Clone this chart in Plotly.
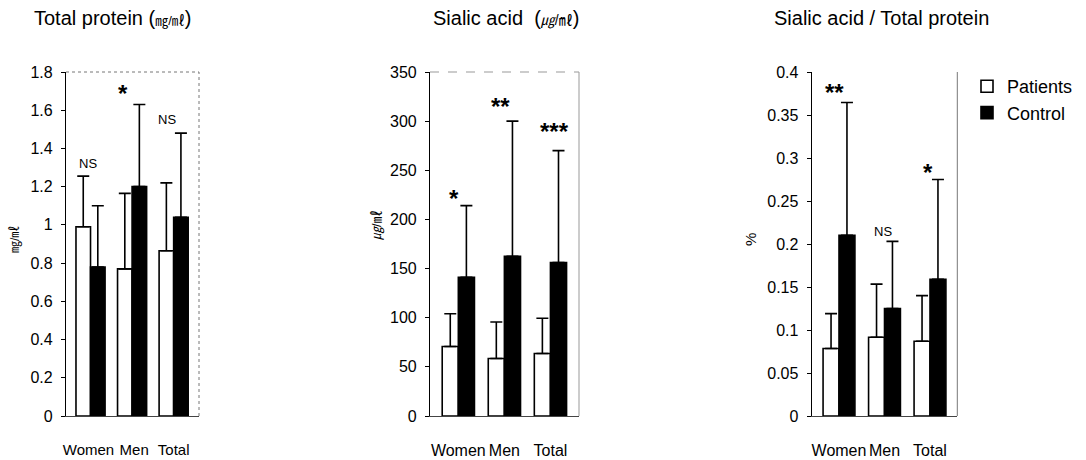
import plotly.graph_objects as go

W, H = 1086, 460

groups = ["Women", "Men", "Total"]

# Panel 1: Total protein (mg/ml)
tp_patients = [0.99, 0.77, 0.865]
tp_patients_sd = [0.265, 0.395, 0.355]
tp_control = [0.78, 1.20, 1.04]
tp_control_sd = [0.32, 0.43, 0.44]
tp_sig = ["NS", "*", "NS"]

# Panel 2: Sialic acid (ug/ml)
sa_patients = [70.7, 58.5, 63.6]
sa_patients_sd = [33.3, 37.2, 35.8]
sa_control = [141, 162.6, 156]
sa_control_sd = [73, 137.4, 114]
sa_sig = ["*", "**", "***"]

# Panel 3: Sialic acid / Total protein (%)
ratio_patients = [0.0785, 0.0916, 0.087]
ratio_patients_sd = [0.0405, 0.0618, 0.053]
ratio_control = [0.21, 0.125, 0.159]
ratio_control_sd = [0.1545, 0.078, 0.116]
ratio_sig = ["**", "NS", "*"]

FONT = "Liberation Sans, Arial, Noto Sans CJK KR, sans-serif"
NB = "\u00a0"

fig = go.Figure()

panels = [
    dict(p=tp_patients, ps=tp_patients_sd, c=tp_control, cs=tp_control_sd,
         xd=[66, 199], rng=[0, 1.8], dtick=0.2, xr=[-0.59, 2.61], xf=15,
         tt=["Women" + NB, NB + "Men", "Total"]),
    dict(p=sa_patients, ps=sa_patients_sd, c=sa_control, cs=sa_control_sd,
         xd=[430, 579], rng=[0, 350], dtick=50, xr=[-0.615, 2.62], xf=16,
         tt=groups),
    dict(p=ratio_patients, ps=ratio_patients_sd, c=ratio_control, cs=ratio_control_sd,
         xd=[811.7, 957.3], rng=[0, 0.4], dtick=0.05, xr=[-0.6, 2.6], xf=16,
         tt=groups),
]

ydom = [1 - 416 / H, 1 - 72 / H]

for i, pn in enumerate(panels):
    k = "" if i == 0 else str(i + 1)
    xa, ya = "x" + k, "y" + k
    show = (i == 2)
    fig.add_trace(go.Bar(
        x=groups, y=pn["p"], name="Patients", xaxis=xa, yaxis=ya,
        marker=dict(color="white", line=dict(color="black", width=1.6)),
        error_y=dict(type="data", symmetric=False, array=pn["ps"],
                     arrayminus=[0] * 3, color="black", thickness=1.6, width=6),
        showlegend=show, legendgroup="p", offsetgroup="p",
    ))
    fig.add_trace(go.Bar(
        x=groups, y=pn["c"], name="Control", xaxis=xa, yaxis=ya,
        marker=dict(color="black", line=dict(color="black", width=1.6)),
        error_y=dict(type="data", symmetric=False, array=pn["cs"],
                     arrayminus=[0] * 3, color="black", thickness=1.6, width=6),
        showlegend=show, legendgroup="c", offsetgroup="c",
    ))
    fig.update_layout(**{
        "xaxis" + k: dict(domain=[pn["xd"][0] / W, pn["xd"][1] / W], anchor=ya,
                          range=pn["xr"], showline=True, linecolor="#444",
                          linewidth=1, ticks="", showgrid=False, tickangle=0,
                          automargin=False, tickmode="array",
                          tickvals=groups, ticktext=pn["tt"],
                          tickfont=dict(family=FONT, size=pn["xf"], color="black"),
                          ticklabelstandoff=20, fixedrange=True),
        "yaxis" + k: dict(domain=ydom, anchor=xa, range=pn["rng"], dtick=pn["dtick"],
                          showline=True, linecolor="black", linewidth=1.2,
                          ticks="outside", ticklen=4, tickcolor="black",
                          showgrid=False, zeroline=False, automargin=False,
                          tickfont=dict(family=FONT, size=16, color="black"),
                          ticklabelstandoff=5, fixedrange=True),
    })

fig.update_layout(bargap=0.3, bargroupgap=0)

# frame lines (top / right)
frame_styles = [("dot", "#777", 1), ("solid", "#999", 1), ("solid", "#777", 1)]
for i, (dash, col, wd) in enumerate(frame_styles):
    k = "" if i == 0 else str(i + 1)
    xr_ = "x" + k + " domain"
    yr_ = "y" + k + " domain"
    fig.add_shape(type="line", xref=xr_, yref=yr_, x0=1, x1=1, y0=0, y1=1,
                  line=dict(color=col, width=wd, dash=dash))
    if i != 2:
        fig.add_shape(type="line", xref=xr_, yref=yr_, x0=0, x1=1, y0=1, y1=1,
                      line=dict(color=col, width=wd, dash="dot" if i == 0 else "dash"))

# significance marks
sig_pos = [
    (tp_sig, "x", "y", [-0.07, 0.77, 1.84], [1.32, 1.71, 1.55]),
    (sa_sig, "x2", "y2", [-0.09, 0.92, 2.08], [225, 318.5, 294]),
    (ratio_sig, "x3", "y3", [-0.09, 0.97, 1.95], [0.381, 0.215, 0.288]),
]
for sigs, xr_, yr_, xs, ys in sig_pos:
    for s, xv, yv in zip(sigs, xs, ys):
        if s == "NS":
            fig.add_annotation(x=xv, y=yv, xref=xr_, yref=yr_, text="NS",
                               showarrow=False, font=dict(family=FONT, size=13, color="black"))
        else:
            fig.add_annotation(x=xv, y=yv, xref=xr_, yref=yr_, text="<b>" + s + "</b>",
                               showarrow=False, yshift=-4,
                               font=dict(family=FONT, size=24, color="black"))

# titles
titles = [
    (33, "Total protein (<span style='font-size:13px'>㎎/㎖</span>)"),
    (432, "Sialic acid  (<span style='font-size:14px'><i>㎍</i>/㎖</span>)"),
    (773, "Sialic acid / Total protein"),
]
for x0, t in titles:
    fig.add_annotation(x=x0 / W, y=1 - 18 / H, xref="paper", yref="paper",
                       xanchor="left", yanchor="middle", text=t, showarrow=False,
                       borderpad=0,
                       font=dict(family=FONT, size=20, color="black"))

# y axis titles
ytitles = [(15, 240, "㎎/㎖", 12), (377, 225, "<i>㎍</i>/㎖", 13), (750, 240, "%", 15)]
for xp, yp, t, fs in ytitles:
    fig.add_annotation(x=xp / W, y=1 - yp / H, xref="paper", yref="paper",
                       text=t, textangle=-90, showarrow=False,
                       xanchor="center", yanchor="middle",
                       font=dict(family=FONT, size=fs, color="black"))

fig.update_layout(
    width=W, height=H, margin=dict(l=0, r=0, t=0, b=0, autoexpand=False),
    paper_bgcolor="white", plot_bgcolor="white",
    legend=dict(x=967 / W, y=1 - 68 / H, xanchor="left", yanchor="top",
                font=dict(family=FONT, size=18, color="black"),
                traceorder="grouped", tracegroupgap=0, bgcolor="rgba(0,0,0,0)"),
)

fig.write_html("out.html", config={"displayModeBar": False},
               post_script="document.body.style.margin='0';")
